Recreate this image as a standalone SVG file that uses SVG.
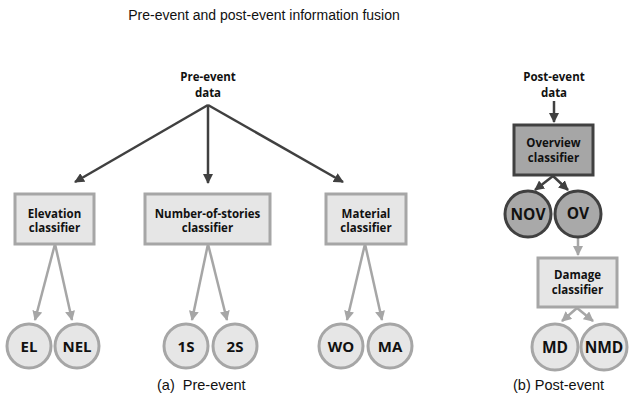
<svg xmlns="http://www.w3.org/2000/svg" width="634" height="410" viewBox="0 0 634 410">
<defs>
<marker id="ad" viewBox="0 0 10 10" refX="9" refY="5" markerWidth="10" markerHeight="10" markerUnits="userSpaceOnUse" orient="auto"><path d="M0,0 L10,5 L0,10 z" fill="#404040"/></marker>
<marker id="ag" viewBox="0 0 10 10" refX="9" refY="5" markerWidth="10" markerHeight="10" markerUnits="userSpaceOnUse" orient="auto"><path d="M0,0 L10,5 L0,10 z" fill="#a6a6a6"/></marker>
</defs>
<style>
.title{font-family:"Liberation Sans",Arial,sans-serif;font-size:14px;fill:#111}
.cap{font-family:"Liberation Sans",Arial,sans-serif;font-size:14.5px;fill:#111}
.lbl{font-family:"Open Sans","Liberation Sans",sans-serif;font-weight:bold;font-size:11.5px;fill:#111;text-anchor:middle}
.cl{font-family:"Open Sans","Liberation Sans",sans-serif;font-weight:bold;font-size:15px;fill:#111;text-anchor:middle}
.lbox{fill:#e6e6e6;stroke:#a6a6a6;stroke-width:3}
.dbox{fill:#a6a6a6;stroke:#404040;stroke-width:3}
.lc{fill:#e6e6e6;stroke:#a6a6a6;stroke-width:3}
.dc{fill:#a9a9a9;stroke:#404040;stroke-width:3}
.ed{stroke:#404040;stroke-width:2.5;fill:none;marker-end:url(#ad)}
.eg{stroke:#a6a6a6;stroke-width:2.5;fill:none;marker-end:url(#ag)}
</style>
<text class="title" x="264" y="20" text-anchor="middle">Pre-event and post-event information fusion</text>

<g id="connectors">
<line class="ed" x1="208" y1="105" x2="75" y2="182"/>
<line class="ed" x1="208" y1="105" x2="208" y2="183"/>
<line class="ed" x1="208" y1="105" x2="343" y2="182"/>
<line class="eg" x1="55" y1="244" x2="35" y2="320"/>
<line class="eg" x1="55" y1="244" x2="72" y2="320"/>
<line class="eg" x1="208" y1="244" x2="192" y2="320"/>
<line class="eg" x1="208" y1="244" x2="227" y2="320"/>
<line class="eg" x1="365" y1="244" x2="347" y2="320"/>
<line class="eg" x1="365" y1="244" x2="382" y2="320"/>
<line class="ed" x1="554" y1="101" x2="554" y2="122"/>
<line class="ed" x1="553" y1="176" x2="535" y2="190"/>
<line class="ed" x1="553" y1="176" x2="568" y2="190"/>
<line class="eg" x1="578" y1="238" x2="578" y2="255"/>
<line class="eg" x1="577" y1="308" x2="562" y2="321"/>
<line class="eg" x1="577" y1="308" x2="593" y2="321"/>
</g>

<g id="pre-data"><text class="lbl" x="208" y="81">Pre-event</text><text class="lbl" x="208" y="97">data</text></g>
<g id="elevation"><rect class="lbox" x="15" y="194" width="79" height="50"/><text class="lbl" x="54.5" y="218">Elevation</text><text class="lbl" x="54.5" y="232">classifier</text></g>
<g id="stories"><rect class="lbox" x="145" y="194" width="125" height="50"/><text class="lbl" x="207.5" y="218">Number-of-stories</text><text class="lbl" x="207.5" y="232">classifier</text></g>
<g id="material"><rect class="lbox" x="326" y="194" width="80" height="50"/><text class="lbl" x="366" y="218">Material</text><text class="lbl" x="366" y="232">classifier</text></g>

<g id="EL"><circle class="lc" cx="29" cy="346" r="22"/><text class="cl" x="29" y="351.5">EL</text></g>
<g id="NEL"><circle class="lc" cx="77" cy="346" r="22"/><text class="cl" x="77" y="351.5">NEL</text></g>
<g id="S1"><circle class="lc" cx="186" cy="346" r="22"/><text class="cl" x="186" y="351.5">1S</text></g>
<g id="S2"><circle class="lc" cx="235" cy="346" r="22"/><text class="cl" x="235" y="351.5">2S</text></g>
<g id="WO"><circle class="lc" cx="341" cy="346" r="22"/><text class="cl" x="341" y="351.5">WO</text></g>
<g id="MA"><circle class="lc" cx="390" cy="346" r="22"/><text class="cl" x="390" y="351.5">MA</text></g>

<g id="post-data"><text class="lbl" x="554" y="81">Post-event</text><text class="lbl" x="554" y="97">data</text></g>
<g id="overview"><rect class="dbox" x="514" y="125" width="79" height="50"/><text class="lbl" x="553.5" y="147">Overview</text><text class="lbl" x="553.5" y="162">classifier</text></g>
<g id="NOV"><circle class="dc" cx="528" cy="214" r="23"/><text class="cl" x="528" y="220" style="font-size:15.5px">NOV</text></g>
<g id="OV"><circle class="dc" cx="578" cy="214" r="23"/><text class="cl" x="578" y="219" style="font-size:15.5px">OV</text></g>
<g id="damage"><rect class="lbox" x="538" y="258" width="79" height="49"/><text class="lbl" x="577.5" y="279">Damage</text><text class="lbl" x="577.5" y="294">classifier</text></g>
<g id="MD"><circle class="lc" cx="555" cy="347" r="23"/><text class="cl" x="555" y="353" style="font-size:15.5px">MD</text></g>
<g id="NMD"><circle class="lc" cx="604" cy="347" r="23"/><text class="cl" x="604" y="352.5" style="font-size:15.5px">NMD</text></g>

<text class="cap" x="157" y="390" xml:space="preserve">(a)  Pre-event</text>
<text class="cap" x="513" y="390">(b) Post-event</text>
</svg>
